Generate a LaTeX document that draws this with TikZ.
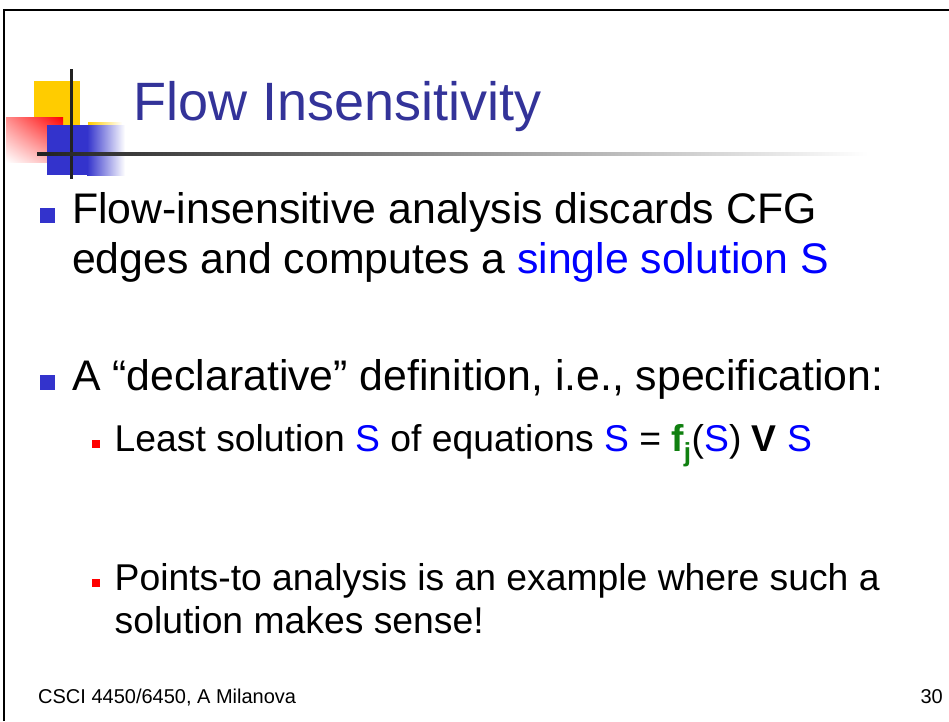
\documentclass[tikz,border=0pt]{standalone}
\usepackage{fontspec}
\setmainfont{Liberation Sans}
\usetikzlibrary{positioning,shadings}
\definecolor{titleblue}{HTML}{333399}
\definecolor{bulletblue}{HTML}{3333CC}
\definecolor{logoyellow}{HTML}{FFCC00}
\definecolor{eqgreen}{HTML}{108010}
\definecolor{linedark}{HTML}{222222}

\begin{document}
\begin{tikzpicture}[
  x=1pt, y=-1pt,
  title/.style={anchor=base west, inner sep=0pt, text=titleblue, font=\fontsize{54}{60}\selectfont},
  bodyone/.style={anchor=base west, inner sep=0pt, font=\fontsize{42.8}{50}\selectfont},
  bodytwo/.style={anchor=base west, inner sep=0pt, font=\fontsize{37.3}{43}\selectfont},
  footer/.style={anchor=base west, inner sep=0pt, font=\fontsize{20}{24}\selectfont},
  bulletone/.style={fill=bulletblue, minimum size=15pt, inner sep=0pt},
  bullettwo/.style={fill=red, minimum size=8pt, inner sep=0pt}
]
\useasboundingbox[fill=white] (0,0) rectangle (949,721);

% Slide frame
\draw[line width=2pt] (4,721) -- (4,9.5) -- (949,9.5);

% Title logo
\fill[logoyellow] (34,81) rectangle (80,125);
\shade[left color=logoyellow, right color=white] (88,122) rectangle (122,125);
\shade[upper right=red, upper left=red!45, lower right=red!35, lower left=white] (6,117) rectangle (63,162);
\fill[bulletblue] (47,125) rectangle (87,175);
\shade[left color=bulletblue, right color=white] (87,125) rectangle (125,175);
\fill[linedark] (69.5,69) rectangle (72.5,179);
\shade[left color=linedark, right color=white] (37,152.5) rectangle (868,155.5);

% Title
\node[title] (ttl) at (133,120) {Flow Insensitivity};

% First bullet
\node[bulletone] (m1) at (47.5,215) {};
\node[bodyone] (t1a) at (72,223) {Flow-insensitive analysis discards CFG};
\node[bodyone] (t1b) at (72,273) {edges and computes a \textcolor{blue}{single solution S}};

% Second bullet
\node[bulletone] (m2) at (47.5,382) {};
\node[bodyone] (t2) at (72,390) {A “declarative” definition, i.e., specification:};

% Sub-bullets
\node[bullettwo] (s1) at (96,444) {};
\node[bodytwo] (u1) at (114.5,451) {Least solution \textcolor{blue}{S} of equations \textcolor{blue}{S} = \textcolor{eqgreen}{\textbf{f}\textsubscript{\textbf{j}}}(\textcolor{blue}{S}) \textbf{V} \textcolor{blue}{S}};
\node[bullettwo] (s2) at (96,583) {};
\node[bodytwo] (u2a) at (114.5,590) {Points-to analysis is an example where such a};
\node[bodytwo] (u2b) at (114.5,633) {solution makes sense!};

% Footer
\node[footer] (foot) at (38,703) {CSCI 4450/6450, A Milanova};
\node[footer, anchor=base east] (page) at (943,703) {30};

\end{tikzpicture}
\end{document}
